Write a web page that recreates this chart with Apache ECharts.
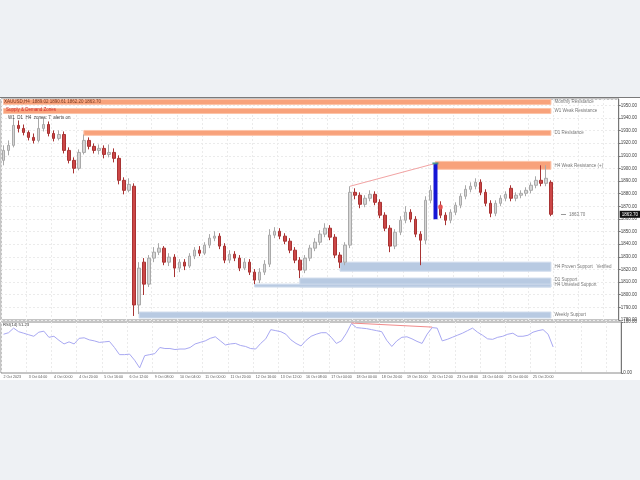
<!DOCTYPE html>
<html><head><meta charset="utf-8">
<script src="https://cdn.jsdelivr.net/npm/echarts/dist/echarts.min.js"></script>
<style>html,body{margin:0;padding:0;background:#fff}#c{width:640px;height:480px}</style>
</head><body><div id="c"></div>
<script>
// ---- data ----
const opens = [
1906.4,1914.3,1918.3,1934.1,1931.7,1928.5,1924.6,1922.2,1931.7,1934.8,
1927.7,1923.8,1926.9,1914.3,1906.4,1900.1,1912.7,1922.2,1917.5,1914.3,
1915.9,1911.1,1912.7,1908.0,1890.6,1882.7,1885.9,1791.9,1825.8,1808.4,
1829.0,1833.7,1836.9,1825.8,1829.8,1821.1,1825.8,1822.7,1830.6,1835.3,
1832.9,1839.3,1844.8,1846.4,1838.5,1827.4,1832.1,1829.0,1821.1,1825.8,
1817.9,1811.6,1817.9,1824.2,1847.2,1850.3,1846.4,1842.4,1835.3,1827.4,
1819.5,1829.0,1836.9,1841.6,1848.0,1852.7,1845.6,1831.4,1825.8,1839.3,
1881.1,1878.8,1871.6,1876.4,1879.5,1873.2,1863.0,1852.7,1838.5,1849.5,
1859.0,1865.3,1859.8,1848.0,1843.2,1874.8,1903.2,1870.9,1863.0,1859.0,
1865.3,1870.9,1878.0,1883.5,1885.9,1889.0,1881.1,1872.4,1864.5,1872.4,
1876.4,1884.3,1876.4,1878.8,1880.3,1882.7,1886.7,1890.6,1888.2,1889.0];
const closes = [
1914.3,1918.3,1934.1,1931.7,1928.5,1924.6,1922.2,1931.7,1934.8,1927.7,
1923.8,1926.9,1914.3,1906.4,1900.1,1912.7,1922.2,1917.5,1914.3,1915.9,
1911.1,1912.7,1908.0,1890.6,1882.7,1887.4,1791.9,1821.1,1808.4,1829.0,
1833.7,1836.9,1825.8,1829.8,1821.1,1825.8,1822.7,1830.6,1835.3,1832.9,
1839.3,1844.8,1846.4,1838.5,1827.4,1832.1,1829.0,1821.1,1825.8,1817.9,
1811.6,1817.9,1824.2,1847.2,1850.3,1846.4,1842.4,1835.3,1827.4,1819.5,
1829.0,1836.9,1841.6,1848.0,1852.7,1845.6,1831.4,1825.8,1839.3,1881.1,
1878.8,1871.6,1876.4,1879.5,1873.2,1863.0,1852.7,1838.5,1849.5,1859.0,
1865.3,1859.8,1848.0,1843.2,1874.8,1882.7,1860.6,1863.0,1859.0,1865.3,
1870.9,1878.0,1883.5,1885.9,1889.0,1881.1,1872.4,1864.5,1872.4,1876.4,
1879.5,1876.4,1878.8,1880.3,1882.7,1886.7,1890.6,1888.2,1892.2,1863.7];
const lows = [
1902.5,1910.4,1916.7,1928.5,1926.2,1922.2,1919.8,1920.6,1929.3,1925.4,
1921.4,1922.2,1911.9,1904.0,1896.1,1898.5,1911.1,1915.1,1911.9,1911.1,
1908.0,1908.8,1904.8,1887.4,1879.5,1881.1,1783.2,1784.7,1799.8,1806.1,
1825.8,1831.4,1823.4,1822.7,1814.0,1817.9,1819.5,1821.1,1828.2,1830.6,
1831.4,1836.9,1842.4,1836.1,1825.0,1825.0,1826.6,1818.7,1819.5,1815.6,
1808.4,1809.2,1815.6,1821.9,1844.8,1844.0,1840.0,1832.9,1825.0,1813.2,
1817.1,1826.6,1834.5,1839.3,1845.6,1843.2,1829.0,1821.1,1823.4,1836.9,
1875.6,1868.5,1869.3,1874.0,1870.9,1860.6,1850.3,1833.7,1836.1,1847.2,
1856.6,1857.4,1845.6,1823.4,1840.0,1872.4,1859.8,1860.6,1855.1,1856.6,
1863.0,1868.5,1875.6,1881.1,1883.5,1878.8,1870.1,1861.4,1862.2,1870.1,
1874.0,1874.0,1874.0,1876.4,1878.0,1880.3,1884.3,1885.9,1885.9,1862.2];
const highs = [
1918.3,1922.2,1939.6,1938.0,1934.8,1930.1,1927.7,1939.6,1940.4,1937.2,
1930.1,1930.1,1929.3,1916.7,1908.8,1915.1,1926.9,1924.6,1919.8,1919.0,
1918.3,1919.0,1915.9,1910.4,1893.0,1892.2,1888.2,1825.8,1829.0,1831.4,
1837.7,1840.8,1838.5,1832.9,1832.1,1828.2,1828.2,1832.9,1837.7,1838.5,
1841.6,1848.0,1850.3,1848.7,1840.8,1835.3,1834.5,1831.4,1829.0,1828.2,
1820.3,1821.1,1827.4,1851.9,1853.5,1852.7,1848.7,1844.8,1837.7,1829.8,
1831.4,1839.3,1844.8,1851.1,1856.6,1855.1,1848.0,1833.7,1841.6,1885.9,
1884.3,1881.1,1878.8,1882.7,1881.9,1875.6,1865.3,1855.1,1851.9,1862.2,
1870.1,1867.7,1862.2,1850.3,1878.0,1886.7,1904.0,1874.0,1865.3,1867.7,
1873.2,1880.3,1886.7,1889.0,1892.2,1891.4,1883.5,1874.8,1874.8,1878.8,
1881.9,1886.7,1881.1,1882.7,1885.1,1889.0,1893.8,1902.5,1902.5,1890.6];
const osc = [
76,79,88,81,78,75,72,80,82,70,
72,64,57,61,57,68,69,65,63,60,
61,62,50,36,36,37,25,10,34,36,
38,50,48,48,46,47,47,50,57,60,
63,68,71,63,55,57,58,54,52,48,
47,58,67,85,83,81,76,65,58,53,
64,72,76,79,79,70,58,63,78,97,
89,88,87,85,83,81,64,52,63,70,
71,67,62,58,76,89,88,63,66,70,
74,78,83,88,80,74,67,66,70,72,
76,78,72,72,74,80,83,85,76,51];
const dateTicks = ["2 Oct 2023","3 Oct 04:00","4 Oct 00:00","4 Oct 20:00","5 Oct 16:00","6 Oct 12:00",
"9 Oct 08:00","10 Oct 04:00","11 Oct 00:00","11 Oct 20:00","12 Oct 16:00","13 Oct 12:00",
"16 Oct 08:00","17 Oct 04:00","18 Oct 00:00","18 Oct 20:00","19 Oct 16:00","20 Oct 12:00",
"23 Oct 08:00","24 Oct 04:00","25 Oct 00:00","25 Oct 20:00"];
const zoneNames = ["Monthly Resistance","W1 Weak Resistance","D1 Resistance","H4 Weak Resistance (+)",
  "H4 Proven Support   Verified","D1 Support\nH4 Untested Support","Weekly Support",""];
const zoneHigh  = [1954.6,1947.5,1930.1,1905.6,1825.8,1813.2,1786.3,1808.4];
const zoneLow   = [1950.6,1943.5,1926.2,1899.3,1818.7,1806.1,1781.6,1806.1];
const zoneStart = [0,0,16,86,67,59,27,50];
const zoneKind  = ["res","res","res","res","sup","sup","sup","sup"];
const impulseBar = 86;
const signalBar = 87, signalPrice = 1869.5;
const trendFrom = 69, trendTo = 86;
const divFrom = 69, divFromVal = 98, divTo = 85, divToVal = 90;
const slotCount = 123;

// ---- build ----
const cats = Array.from({length: slotCount}, (_, i) => String(i));
const last = closes.length - 1;
const candles = opens.map((o, i) => {
  const v = [o, closes[i], lows[i], highs[i]];
  if (i === impulseBar) return {value: v, itemStyle: {color:'#1616d6', color0:'#1616d6', borderColor:'#1616d6', borderColor0:'#1616d6', borderWidth: 2}};
  return v;
});
const zoneData = zoneHigh.map((h, k) => {
  const res = zoneKind[k] === 'res';
  return [{
    xAxis: cats[zoneStart[k]], yAxis: h, name: zoneNames[k],
    itemStyle: {color: res ? '#f8a27b' : '#b8cae2', borderColor: res ? '#fcc3a8' : '#cfdbec', borderWidth: 1},
    label: {show: zoneNames[k] !== '', position: 'right', distance: 3, formatter: zoneNames[k], fontSize: 4.5, color: '#777', lineHeight: 5}
  }, {xAxis: cats[last], yAxis: zoneLow[k]}];
});

const grey = '#eef1f4';
const gridLine = {color: '#ebebeb', type: [2, 2], width: 1};
const option = {
  animation: false,
  backgroundColor: '#ffffff',
  textStyle: {fontFamily: 'Liberation Sans'},
  grid: [
    {left: 1, right: 18, top: 99, height: 221, show: true, borderColor: '#8a8a8a', borderWidth: 1},
    {left: 1, right: 18, top: 322, height: 51, show: true, borderColor: '#8a8a8a', borderWidth: 1}
  ],
  xAxis: [
    {type: 'category', data: cats, gridIndex: 0, boundaryGap: true,
     axisLine: {show: false}, axisTick: {show: false}, axisLabel: {show: false},
     splitLine: {show: true, interval: 4, lineStyle: gridLine}},
    {type: 'category', data: cats, gridIndex: 1, boundaryGap: true,
     axisLine: {show: false}, axisTick: {show: false},
     axisLabel: {show: true, interval: 4, fontSize: 3.6, color: '#555', margin: 2, align: 'left',
       formatter: (v, idx) => (idx % 5 === 0 && dateTicks[idx / 5]) ? dateTicks[idx / 5] : ''},
     splitLine: {show: true, interval: 4, lineStyle: gridLine}}
  ],
  yAxis: [
    {type: 'value', gridIndex: 0, position: 'right', min: 1780, max: 1955, interval: 10,
     axisLine: {show: true, lineStyle: {color: '#777'}}, axisTick: {show: true, length: 2, lineStyle: {color: '#777'}},
     axisLabel: {fontSize: 4.5, color: '#444', margin: 2, showMaxLabel: false, formatter: v => v.toFixed(2)},
     splitLine: {show: true, lineStyle: gridLine}},
    {type: 'value', gridIndex: 1, position: 'right', min: 0, max: 100, interval: 100,
     axisLine: {show: true, lineStyle: {color: '#777'}}, axisTick: {show: true, length: 2},
     axisLabel: {fontSize: 4.5, color: '#444', margin: 2, formatter: v => v.toFixed(2)},
     splitLine: {show: false}}
  ],
  graphic: [
    {type: 'rect', shape: {x: 0, y: 0, width: 640, height: 97}, style: {fill: grey}, silent: true},
    {type: 'rect', shape: {x: 0, y: 380, width: 640, height: 100}, style: {fill: grey}, silent: true},
    {type: 'line', shape: {x1: 0, y1: 97.5, x2: 640, y2: 97.5}, style: {stroke: '#7a7a7a', lineWidth: 1}},
    {type: 'text', left: 4, top: 99, z: 100, style: {text: 'XAUUSD,H4  1889.02 1890.61 1862.20 1863.70', fontSize: 4.5, fill: '#7a3a22', fontFamily: 'Liberation Sans'}},
    {type: 'text', left: 6, top: 107, z: 100, style: {text: 'Supply & Demand Zones', fontSize: 4.5, fill: '#d02c2c', fontFamily: 'Liberation Sans'}},
    {type: 'text', left: 8, top: 115, z: 100, style: {text: 'W1  D1  H4  zones: 7  alerts on', fontSize: 4.5, fill: '#444', fontFamily: 'Liberation Sans'}},
    {type: 'text', left: 3, top: 323, z: 100, style: {text: 'RSI(14) 51.23', fontSize: 4.2, fill: '#333', fontFamily: 'Liberation Sans'}}
  ],
  series: [
    {type: 'candlestick', xAxisIndex: 0, yAxisIndex: 0, barWidth: 3, data: candles,
     itemStyle: {color: '#d6d6d6', color0: '#cc4747', borderColor: '#a9a9a9', borderColor0: '#a83333', borderWidth: 1},
     markArea: {silent: true, data: zoneData},
     markLine: {silent: true, symbol: 'none', animation: false, data: [
       [{coord: [cats[trendFrom], highs[trendFrom]], lineStyle: {color: '#f2a3a3', width: 1, type: 'solid'}, label: {show: false}},
        {coord: [cats[trendTo], highs[trendTo]]}],
       {yAxis: closes[last], lineStyle: {color: 'rgba(0,0,0,0)', width: 0},
        label: {show: true, position: 'end', distance: 1, formatter: p => Number(p.value).toFixed(2), fontSize: 4.5, color: '#fff', backgroundColor: '#111', padding: [1, 2]}},
       [{coord: [cats[last + 2], closes[last]], lineStyle: {color: '#999', width: 1, type: 'solid'},
         label: {show: true, position: 'end', distance: 3, formatter: () => closes[last].toFixed(2), fontSize: 4.5, color: '#777'}},
        {coord: [cats[last + 3], closes[last]]}]
     ]}},
    {type: 'scatter', xAxisIndex: 0, yAxisIndex: 0, symbol: 'circle', symbolSize: 5,
     itemStyle: {color: '#ee5a5a'}, data: [[cats[signalBar], signalPrice]], z: 5},
    {type: 'scatter', xAxisIndex: 0, yAxisIndex: 0, symbol: 'rect', symbolSize: [6, 2],
     itemStyle: {color: '#2f8f85'}, data: [[cats[impulseBar], highs[impulseBar]]], z: 5},
    {type: 'line', xAxisIndex: 1, yAxisIndex: 1, data: osc, showSymbol: false, symbol: 'none',
     lineStyle: {color: '#a8a8f2', width: 1},
     markLine: {silent: true, symbol: 'none', data: [
       [{coord: [cats[divFrom], divFromVal], lineStyle: {color: '#f08a8a', width: 1, type: 'solid'}, label: {show: false}},
        {coord: [cats[divTo], divToVal]}]
     ]}}
  ]
};
const chart = echarts.init(document.getElementById('c'), null, {renderer: 'canvas'});
chart.setOption(option);
</script>
</body></html>
